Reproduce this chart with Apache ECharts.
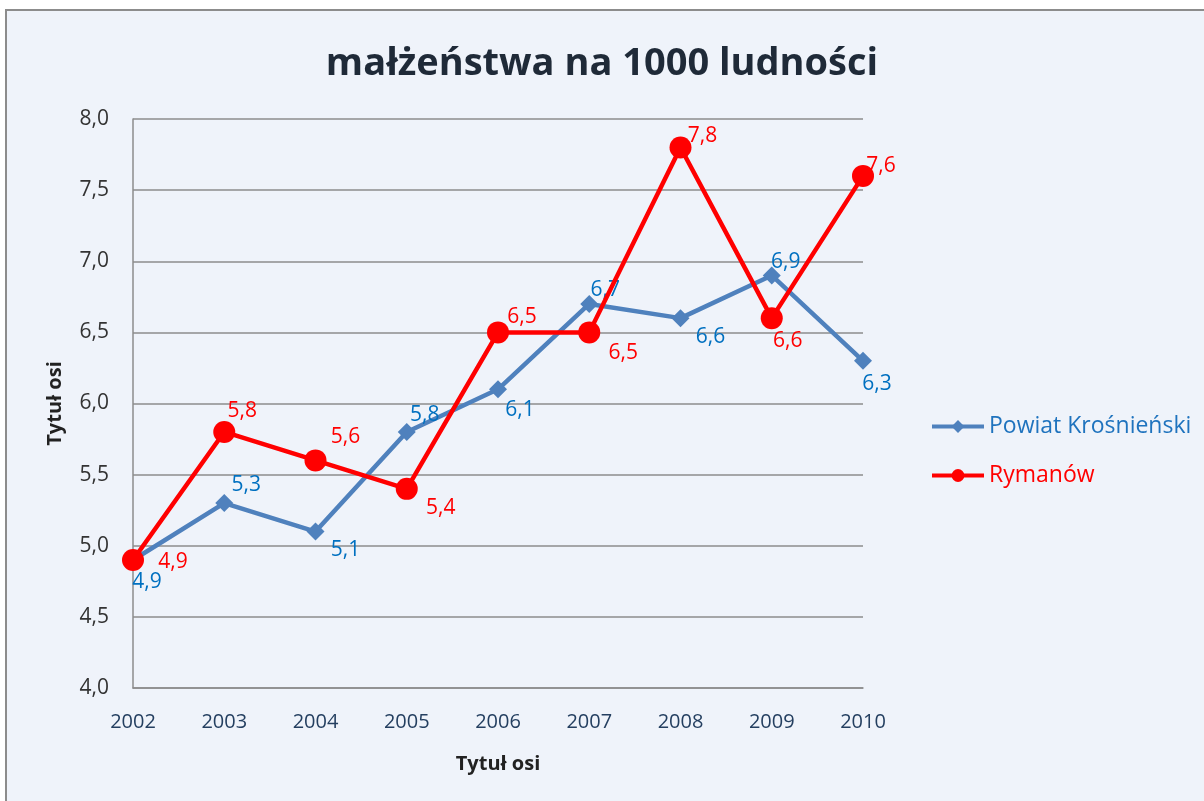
<!DOCTYPE html>
<html>
<head>
<meta charset="utf-8">
<script src="https://cdn.jsdelivr.net/npm/echarts@6/dist/echarts.min.js"></script>
<style>
  html, body { margin: 0; padding: 0; background: #fff; }
  #chart { width: 1204px; height: 801px; }
</style>
</head>
<body>
<div id="chart"></div>
<script>
var years = ['2002', '2003', '2004', '2005', '2006', '2007', '2008', '2009', '2010'];
var powiat = [4.9, 5.3, 5.1, 5.8, 6.1, 6.7, 6.6, 6.9, 6.3];
var rymanow = [4.9, 5.8, 5.6, 5.4, 6.5, 6.5, 7.8, 6.6, 7.6];

// przesunięcia etykiet danych od środka znacznika (jak w Excelu)
var powiatLabelOff = [[14, 22], [22, -18], [30, 18], [18, -17], [22, 21], [16, -14], [30, 19], [14, -13], [14, 23]];
var rymanowLabelOff = [[40, 2], [18, -21], [30, -23], [34, 19], [24, -15], [34, 21], [22, -11], [16, 23], [18, -10]];

function fmt(v) {
  return v.toFixed(1).replace('.', ',');
}

var font = '"Open Sans", "Noto Sans", sans-serif';

function withLabels(vals, offs) {
  return vals.map(function (v, i) {
    return { value: v, label: { offset: offs[i] } };
  });
}

var chart = echarts.init(document.getElementById('chart'));

var option = {
  backgroundColor: '#ffffff',
  textStyle: { fontFamily: font },
  graphic: [{
    type: 'rect',
    z: -10,
    shape: { x: 6, y: 10, width: 1300, height: 900 },
    style: { fill: '#EFF3FA', stroke: '#8C8C8C', lineWidth: 2 }
  }],
  title: {
    text: 'małżeństwa na 1000 ludności',
    left: 'center',
    top: 40,
    textStyle: { fontFamily: font, fontSize: 38, fontWeight: 'bold', color: '#1F2A38' }
  },
  legend: {
    orient: 'vertical',
    left: 925,
    top: 410,
    itemGap: 26,
    itemWidth: 52,
    itemHeight: 16,
    data: [
      { name: 'Powiat Krośnieński', textStyle: { color: '#1F73BE' }, lineStyle: { width: 4 } },
      { name: 'Rymanów', textStyle: { color: '#FF0000' }, lineStyle: { width: 4 } }
    ],
    textStyle: { fontFamily: font, fontSize: 23 }
  },
  grid: { left: 133, right: 341, top: 119, bottom: 113 },
  xAxis: {
    type: 'category',
    data: years,
    boundaryGap: false,
    name: 'Tytuł osi',
    nameLocation: 'middle',
    nameGap: 66,
    nameTextStyle: { fontFamily: font, fontSize: 20, fontWeight: 'bold', color: '#222' },
    axisLine: { lineStyle: { color: '#8C8C8C', width: 1.5 } },
    axisTick: { show: false },
    axisLabel: { fontFamily: font, fontSize: 20, color: '#243F60', margin: 24 },
    splitLine: { show: false }
  },
  yAxis: {
    type: 'value',
    min: 4,
    max: 8,
    interval: 0.5,
    name: 'Tytuł osi',
    nameLocation: 'middle',
    nameGap: 68,
    nameRotate: 90,
    nameTextStyle: { fontFamily: font, fontSize: 20, fontWeight: 'bold', color: '#222' },
    axisLine: { show: true, lineStyle: { color: '#8C8C8C', width: 1.5 } },
    axisTick: { show: false },
    axisLabel: { fontFamily: font, fontSize: 21, color: '#333', margin: 24, formatter: fmt },
    splitLine: { lineStyle: { color: '#8C8C8C', width: 1.5 } }
  },
  series: [
    {
      name: 'Powiat Krośnieński',
      type: 'line',
      data: withLabels(powiat, powiatLabelOff),
      symbol: 'diamond',
      symbolSize: 18,
      lineStyle: { color: '#4F81BD', width: 4.5 },
      itemStyle: { color: '#4F81BD' },
      label: {
        show: true,
        position: 'inside',
        fontFamily: font,
        fontSize: 21,
        color: '#0070C0',
        formatter: function (p) { return fmt(p.value); }
      },
      z: 2
    },
    {
      name: 'Rymanów',
      type: 'line',
      data: withLabels(rymanow, rymanowLabelOff),
      symbol: 'circle',
      symbolSize: 22,
      lineStyle: { color: '#FF0000', width: 4.5 },
      itemStyle: { color: '#FF0000' },
      label: {
        show: true,
        position: 'inside',
        fontFamily: font,
        fontSize: 21,
        color: '#FF0000',
        formatter: function (p) { return fmt(p.value); }
      },
      z: 3
    }
  ]
};

chart.setOption(option);
</script>
</body>
</html>
